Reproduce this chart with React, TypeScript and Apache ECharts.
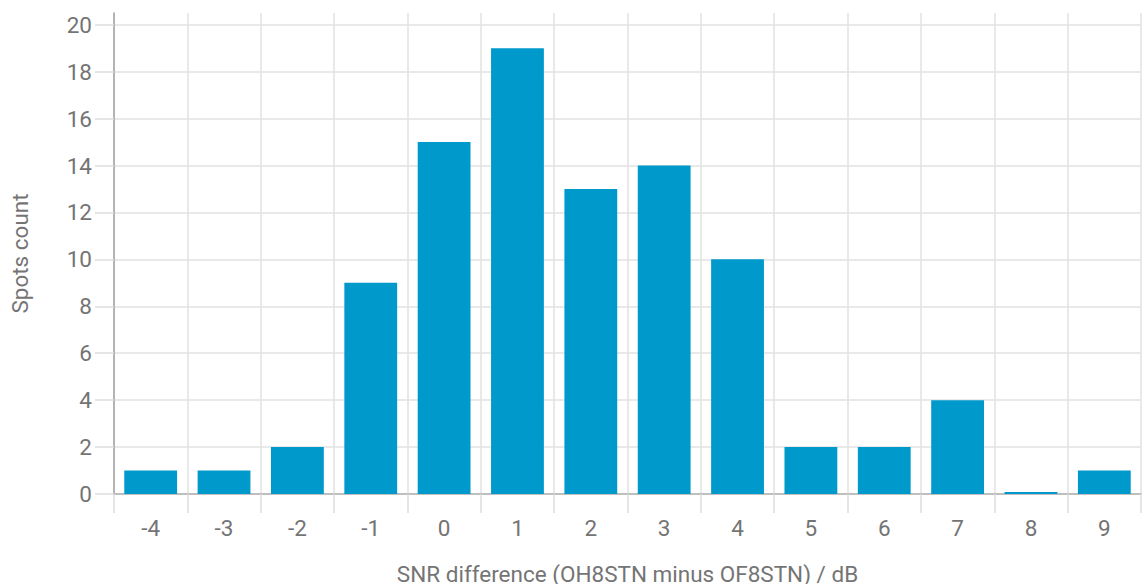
import React, { useEffect, useRef } from "react";
import * as echarts from "echarts";

const categories = ["-4", "-3", "-2", "-1", "0", "1", "2", "3", "4", "5", "6", "7", "8", "9"];
const spotsCount = [1, 1, 2, 9, 15, 19, 13, 14, 10, 2, 2, 4, 0, 1];
const xAxisTitle = "SNR difference (OH8STN minus OF8STN) / dB";
const yAxisTitle = "Spots count";

export default function App() {
  const ref = useRef<HTMLDivElement>(null);
  useEffect(() => {
    if (!ref.current) return;
    const chart = echarts.init(ref.current, undefined, { renderer: "svg" });
    const font = "Roboto";
    const textColor = "#747474";
    const weight = 400;
    chart.setOption({
      animation: false,
      grid: { left: 114, right: 1, top: 13, height: 481, containLabel: false, outerBoundsMode: "none" },
      xAxis: {
        type: "category",
        data: categories,
        name: xAxisTitle,
        nameLocation: "middle",
        nameGap: 68,
        nameTextStyle: { fontFamily: font, fontSize: 22.5, fontWeight: weight, color: textColor },
        axisLine: { show: true, lineStyle: { color: "#b0b0b0", width: 1.5 } },
        axisTick: { show: true, length: 19, lineStyle: { color: "#dcdcdc", width: 1.5 } },
        axisLabel: { fontFamily: font, fontSize: 22.5, fontWeight: weight, color: textColor, margin: 22 },
        splitLine: { show: true, lineStyle: { color: "#e2e2e2", width: 1.5 } },
      },
      yAxis: {
        type: "value",
        min: 0,
        max: 20.5,
        interval: 2,
        name: yAxisTitle,
        nameLocation: "middle",
        nameGap: 83,
        nameTextStyle: { fontFamily: font, fontSize: 22.5, fontWeight: weight, color: textColor },
        axisLine: { show: true, lineStyle: { color: "#a0a0a0", width: 1.5 } },
        axisTick: { show: true, length: 19, lineStyle: { color: "#dcdcdc", width: 1.5 } },
        axisLabel: { fontFamily: font, fontSize: 22.5, fontWeight: weight, color: textColor, margin: 22, showMaxLabel: false },
        splitLine: { show: true, showMaxLine: false, lineStyle: { color: "#e2e2e2", width: 1.5 } },
      },
      series: [
        {
          type: "bar",
          data: spotsCount,
          barCategoryGap: "28%",
          barMinHeight: 2,
          itemStyle: { color: "#0099cc" },
        },
      ],
    });
    return () => chart.dispose();
  }, []);
  return (
    <div
      ref={ref}
      style={{ position: "fixed", left: 0, top: 0, width: 1142, height: 584, background: "#fff" }}
    />
  );
}
